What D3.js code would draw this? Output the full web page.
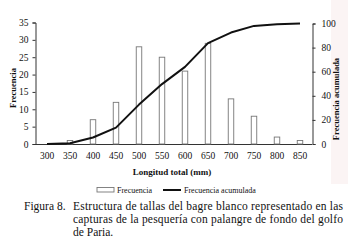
<!DOCTYPE html>
<html>
<head>
<meta charset="utf-8">
<script src="https://cdn.jsdelivr.net/npm/d3@7"></script>
<style>
  body { margin: 0; background: #fff; }
  svg { display: block; }
  text { font-family: "Liberation Serif", "DejaVu Serif", serif; fill: #111; }
  .axis path, .axis line { stroke: #333; stroke-width: 1; }
  .axis text { font-size: 9.5px; }
</style>
</head>
<body>
<div id="chart"></div>
<script>
// longitud total (mm)
const tallas = ['300', '350', '400', '450', '500', '550', '600', '650', '700', '750', '800', '850']
// frecuencia (barras)
const frecuencia = [0, 1, 7, 12, 28, 25, 21, 29, 13, 8, 2, 1]
// frecuencia acumulada (%)
const acumulada = [0, 0.7, 5.4, 13.6, 32.7, 49.7, 64.0, 83.7, 92.5, 98.0, 99.3, 100]
const ticksIzq = [0, 5, 10, 15, 20, 25, 30, 35]
const ticksDer = [0, 20, 40, 60, 80, 100]
const caption = [
    'Estructura de tallas del bagre blanco representado en las',
    'capturas de la pesquería con palangre de fondo del golfo',
    'de Paria.'
]

const width = 348, height = 246
const plotLeft = 36, plotRight = 312, plotTop = 22.5, plotBottom = 144

const svg = d3.select('#chart').append('svg')
    .attr('width', width)
    .attr('height', height)

// light tint of the scanned page at the right edge
svg.append('rect')
    .attr('x', 331).attr('y', 0).attr('width', 17).attr('height', 184)
    .attr('fill', '#fbf4f4')

const x = d3.scalePoint()
    .domain(tallas)
    .range([47, 300])

const y = d3.scaleLinear()
    .domain([0, 35])
    .range([plotBottom, plotTop])

const y2 = d3.scaleLinear()
    .domain([0, 100])
    .range([plotBottom, plotTop + 1])

// x axis line (no ticks)
svg.append('line')
    .attr('x1', plotLeft - 3).attr('x2', plotRight)
    .attr('y1', plotBottom + 0.5).attr('y2', plotBottom + 0.5)
    .attr('stroke', '#333')

svg.selectAll('.xlab')
    .data(tallas)
    .enter().append('text')
    .attr('class', 'xlab')
    .attr('x', d => x(d))
    .attr('y', 159)
    .attr('text-anchor', 'middle')
    .style('font-size', '9.5px')
    .text(d => d)

// left axis
svg.append('g')
    .attr('class', 'axis')
    .attr('transform', `translate(${plotLeft - 0.5},0)`)
    .call(d3.axisLeft(y).tickValues(ticksIzq).tickSize(3).tickSizeOuter(3).tickPadding(4))

// right axis
svg.append('g')
    .attr('class', 'axis')
    .attr('transform', `translate(${plotRight + 0.5},0)`)
    .call(d3.axisRight(y2).tickValues(ticksDer).tickSize(3).tickSizeOuter(3).tickPadding(6))

// bars
const barW = 5.5
svg.selectAll('.bar')
    .data(frecuencia)
    .enter().append('rect')
    .attr('class', 'bar')
    .attr('x', (d, i) => x(tallas[i]) - barW / 2)
    .attr('y', d => y(d))
    .attr('width', barW)
    .attr('height', d => plotBottom - y(d))
    .attr('fill', '#fff')
    .attr('stroke', '#777')
    .attr('stroke-width', 0.9)

// cumulative line
const line = d3.line()
    .x((d, i) => x(tallas[i]))
    .y(d => y2(d))

svg.append('path')
    .datum(acumulada)
    .attr('d', line)
    .attr('fill', 'none')
    .attr('stroke', '#111')
    .attr('stroke-width', 2)
    .attr('stroke-linejoin', 'round')

// axis titles
svg.append('text')
    .attr('transform', 'translate(16,88) rotate(-90)')
    .attr('text-anchor', 'middle')
    .style('font-size', '8.5px')
    .style('font-weight', 'bold')
    .text('Frecuencia')

svg.append('text')
    .attr('transform', 'translate(339,99) rotate(-90)')
    .attr('text-anchor', 'middle')
    .style('font-size', '8.5px')
    .style('font-weight', 'bold')
    .text('Frecuencia acumulada')

svg.append('text')
    .attr('x', 172)
    .attr('y', 175)
    .attr('text-anchor', 'middle')
    .style('font-size', '9px')
    .style('font-weight', 'bold')
    .text('Longitud total (mm)')

// legend
svg.append('rect')
    .attr('x', 97).attr('y', 187.5).attr('width', 17).attr('height', 4.5)
    .attr('fill', '#fff').attr('stroke', '#777').attr('stroke-width', 0.9)
svg.append('text')
    .attr('x', 117).attr('y', 193)
    .style('font-size', '8px')
    .text('Frecuencia')
svg.append('line')
    .attr('x1', 163).attr('x2', 181).attr('y1', 190).attr('y2', 190)
    .attr('stroke', '#111').attr('stroke-width', 2)
svg.append('text')
    .attr('x', 184).attr('y', 193)
    .style('font-size', '8px')
    .text('Frecuencia acumulada')

// caption
svg.append('text')
    .attr('x', 24).attr('y', 210)
    .style('font-size', '11.5px')
    .text('Figura 8.')

svg.selectAll('.cap')
    .data(caption)
    .enter().append('text')
    .attr('class', 'cap')
    .attr('x', 73)
    .attr('y', (d, i) => 210 + i * 13)
    .style('font-size', '11.5px')
    .each(function (d, i) {
        if (i < 2) d3.select(this).attr('textLength', 270).attr('lengthAdjust', 'spacing')
    })
    .text(d => d)
</script>
</body>
</html>
